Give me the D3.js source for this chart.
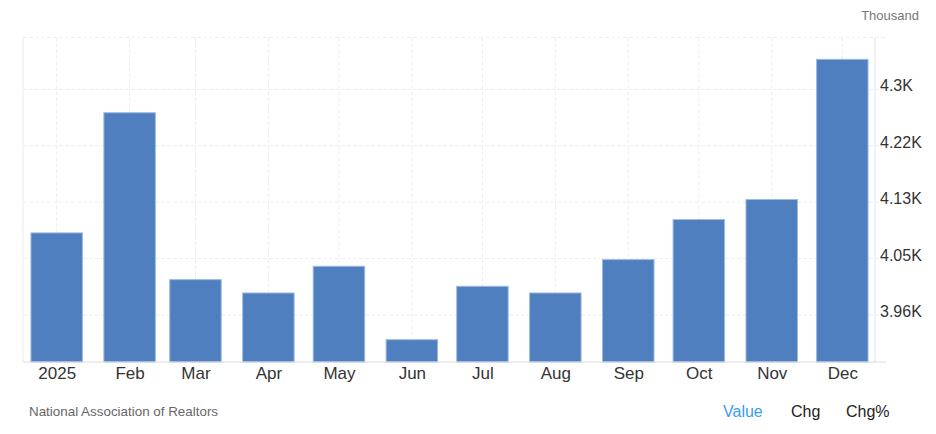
<!DOCTYPE html>
<html>
<head>
<meta charset="utf-8">
<script src="https://cdn.jsdelivr.net/npm/d3@7"></script>
<style>
  html, body { margin: 0; padding: 0; background: #fff; }
  svg { display: block; font-family: "Liberation Sans", Arial, Helvetica, sans-serif; }
</style>
</head>
<body>
<svg id="chart" width="936" height="434"></svg>
<script>
// ---- data ----
const categories = ["2025", "Feb", "Mar", "Apr", "May", "Jun", "Jul", "Aug", "Sep", "Oct", "Nov", "Dec"];
const monthIndex = [0, 1, 2, 3, 4, 5, 6, 7, 8, 9, 10, 11];
const values = [4090, 4270, 4020, 4000, 4040, 3930, 4010, 4000, 4050, 4110, 4140, 4350];
const yTickValues = [3967, 4051.5, 4136, 4220.5, 4305];
const yTickLabels = ["3.96K", "4.05K", "4.13K", "4.22K", "4.3K"];
const unitLabel = "Thousand";
const sourceLabel = "National Association of Realtors";
const toggleLabels = ["Value", "Chg", "Chg%"];

// ---- layout ----
const plot = { left: 23, right: 875, top: 37.3, bottom: 362 };
const DAY = 86400000;
const dates = monthIndex.map(m => new Date(Date.UTC(2025, m, 1)));

const svg = d3.select("#chart");

const x = d3.scaleUtc()
  .domain([new Date(dates[0].getTime() - 14.33 * DAY), new Date(dates[11].getTime() + 13.9 * DAY)])
  .range([plot.left, plot.right]);

const y = d3.scaleLinear()
  .domain([3896.6, 4383])
  .range([plot.bottom, plot.top]);

const gridColor = "#eeeeee";

// horizontal grid (incl. top)
const g = svg.append("g");
g.selectAll("line.hg")
  .data(yTickValues.concat([y.domain()[1]]))
  .join("line")
  .attr("x1", plot.left).attr("x2", plot.right + 10)
  .attr("y1", d => y(d)).attr("y2", d => y(d))
  .attr("stroke", gridColor).attr("stroke-width", 1)
  .attr("stroke-dasharray", "4,2");

// vertical grid at bar centers
g.selectAll("line.vg")
  .data(dates)
  .join("line")
  .attr("x1", d => x(d)).attr("x2", d => x(d))
  .attr("y1", plot.top).attr("y2", plot.bottom)
  .attr("stroke", gridColor).attr("stroke-width", 1)
  .attr("stroke-dasharray", "4,2");

// borders
svg.append("line").attr("x1", plot.left).attr("x2", plot.left)
  .attr("y1", plot.top).attr("y2", plot.bottom).attr("stroke", "#ececec");
svg.append("line").attr("x1", plot.right).attr("x2", plot.right)
  .attr("y1", plot.top).attr("y2", plot.bottom).attr("stroke", "#e4e4e4");

// bars
const barW = 51.5;
svg.append("g").selectAll("rect")
  .data(values)
  .join("rect")
  .attr("x", (d, i) => x(dates[i]) - barW / 2)
  .attr("width", barW)
  .attr("y", d => y(d))
  .attr("height", d => y.range()[0] - y(d))
  .attr("fill", "#4f7fbe")
  .attr("stroke", "#9bbbe4")
  .attr("stroke-width", 1);

// bottom axis line
svg.append("line").attr("x1", plot.left).attr("x2", plot.right + 11)
  .attr("y1", plot.bottom).attr("y2", plot.bottom).attr("stroke", "#dcdcdc");

// x axis labels
const xAxis = d3.axisBottom(x).tickValues(dates).tickSize(0).tickPadding(0)
  .tickFormat((d, i) => categories[i]);
const xg = svg.append("g").attr("transform", `translate(0,${plot.bottom})`).call(xAxis);
xg.select(".domain").remove();
xg.selectAll("text").attr("dy", null).attr("y", 17)
  .attr("font-size", 17).attr("fill", "#333").attr("font-family", "Liberation Sans, Arial, sans-serif");

// y axis labels
const yAxis = d3.axisRight(y).tickValues(yTickValues).tickSize(0).tickPadding(0)
  .tickFormat((d, i) => yTickLabels[i]);
const yg = svg.append("g").attr("transform", `translate(${plot.right + 5},0)`).call(yAxis);
yg.select(".domain").remove();
yg.selectAll("text").attr("x", 0).attr("dy", "0.1em")
  .attr("font-size", 16).attr("fill", "#333").attr("font-family", "Liberation Sans, Arial, sans-serif");

// unit label
svg.append("text").attr("x", 919).attr("y", 20).attr("text-anchor", "end")
  .attr("font-size", 13).attr("fill", "#777").text(unitLabel);

// source
svg.append("text").attr("x", 29).attr("y", 416)
  .attr("font-size", 13.4).attr("fill", "#666").text(sourceLabel);

// toggles
const toggleX = [723, 791, 846];
svg.append("g").selectAll("text")
  .data(toggleLabels)
  .join("text")
  .attr("x", (d, i) => toggleX[i]).attr("y", 417)
  .attr("font-size", 16)
  .attr("fill", (d, i) => i === 0 ? "#3a9cf5" : "#222")
  .text(d => d);
</script>
</body>
</html>
